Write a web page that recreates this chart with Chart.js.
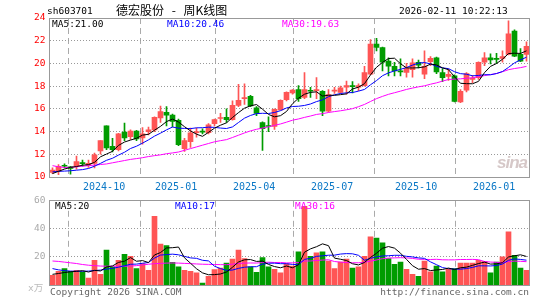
<!DOCTYPE html>
<html><head><meta charset="utf-8">
<script src="https://cdn.jsdelivr.net/npm/chart.js@4.4.1/dist/chart.umd.min.js"></script>
<style>
body{margin:0;width:545px;height:300px;background:#fff;position:relative;overflow:hidden;font-family:"DejaVu Sans Mono",monospace;}
canvas{position:absolute;left:0}
.t{position:absolute;font-size:9.5px;line-height:12px;white-space:pre;font-family:"DejaVu Sans Mono","Noto Sans CJK SC",monospace;}
</style></head><body>
<canvas id="main" width="545" height="198" style="top:0"></canvas>
<canvas id="vol" width="545" height="110" style="top:190px"></canvas>
<div class="t" style="left:47px;top:5px;color:#000">sh603701</div>
<div class="t" style="left:116px;top:3px;font-family:'Noto Sans CJK SC';font-size:12px;line-height:14px;color:#000;word-spacing:5px">德宏股份 - 周K线图</div>
<div class="t" style="left:399px;top:5px;color:#000">2026-02-11 10:22:13</div>
<div class="t" style="left:52px;top:18px;color:#000">MA5:21.00</div>
<div class="t" style="left:167px;top:18px;color:#0000ff">MA10:20.46</div>
<div class="t" style="left:282px;top:18px;color:#ff00ff">MA30:19.63</div>
<div class="t" style="left:55px;top:200px;color:#000">MA5:20</div>
<div class="t" style="left:175px;top:200px;color:#0000ff">MA10:17</div>
<div class="t" style="left:295px;top:200px;color:#ff00ff">MA30:16</div>
<div class="t" style="left:28px;top:282px;color:#bbb">x万</div>
<div class="t" style="left:50px;top:286px;color:#666">Copyright 2026 SINA.COM</div>
<div class="t" style="right:16px;top:286px;color:#666">http://finance.sina.com.cn</div>
<div style="position:absolute;left:497px;top:153px;font:italic bold 17px 'Liberation Sans',sans-serif;color:#d6c8c8;letter-spacing:-1px">sina</div>
<script>
// ---- data (weekly, 80 weeks from 2024-08-05 to 2026-02-09) ----
const open = [10.4,10.5,11.0,10.9,10.9,11.22,11.0,11.2,12.3,14.5, 12.7,12.4,13.95,13.55,14.05,13.45,14.0,14.15,15.2,15.7, 15.45,15.0,12.5,13.1,13.9,14.0,13.9,14.7,15.15,15.25, 15.05,16.3,16.9,17.1,16.1,14.8,14.5,14.45,15.9,16.8, 17.4,17.7,17.0,17.6,17.6,17.55,15.8,17.55,17.45,17.9, 18.05,17.9,18.05,19.05,21.7,21.4,20.2,19.75,19.35,19.2, 19.45,20.1,19.05,20.15,20.5,19.2,18.85,18.9,16.6,17.65, 18.6,18.75,20.1,20.5,20.4,20.45,20.8,22.85,20.8,20.8];
const high = [10.8,11.1,11.15,10.95,11.85,11.5,11.5,12.1,13.2,14.5, 13.4,13.85,14.75,14.15,14.1,14.35,14.4,15.3,16.25,16.2, 15.55,15.1,13.4,14.3,14.3,14.25,14.7,15.1,15.6,16.0, 16.7,18.15,18.2,17.2,16.2,14.85,15.3,16.0,16.8,17.5, 17.7,18.05,19.2,17.9,18.75,17.6,17.7,17.9,18.0,18.45, 18.4,18.2,19.75,22.1,22.2,21.45,20.5,20.1,20.4,20.0, 20.4,20.3,21.1,20.6,20.55,19.55,19.5,19.0,17.7,19.2, 18.95,20.15,20.95,20.85,20.9,21.1,23.75,22.95,21.3,21.9];
const low = [10.3,10.2,10.8,10.25,10.7,10.95,10.85,10.8,12.0,12.4, 12.2,12.3,13.2,13.3,13.2,12.9,13.7,14.0,14.8,14.5, 14.4,12.75,12.25,12.6,13.5,13.8,13.8,14.5,14.8,14.8, 15.0,16.2,16.4,16.2,15.4,12.35,14.0,14.2,15.9,16.7, 17.3,16.65,16.9,17.0,16.9,15.4,15.7,17.35,17.35,17.3, 17.4,17.6,18.0,19.0,21.1,19.35,18.9,18.9,18.9,18.8, 18.8,19.6,18.65,19.8,19.1,18.4,18.5,16.6,16.55,17.5, 18.3,18.6,19.8,19.95,20.0,20.1,20.75,20.6,20.15,20.2];
const close = [10.6,10.95,10.95,10.75,11.35,11.18,11.2,11.95,13.2,12.55, 12.4,13.8,13.45,14.05,13.35,13.8,14.15,15.25,15.75,15.45, 14.9,12.85,13.2,13.9,14.0,13.95,14.6,15.05,15.2,15.05, 16.3,16.75,17.0,16.25,15.6,14.25,14.45,15.95,16.75,17.45, 17.65,16.9,17.7,17.55,17.7,15.8,17.25,17.65,17.85,18.05, 17.95,18.05,19.2,21.7,21.4,20.1,19.75,19.35,19.25,19.6, 20.05,19.85,19.75,20.45,19.25,18.75,19.05,16.65,17.55,19.1, 18.7,20.1,20.5,20.3,20.35,20.6,22.6,20.65,20.2,21.5];
const ma5 = [10.3,10.5,10.7,10.85,10.92,11.04,11.09,11.29,11.78,12.02, 12.26,12.78,13.08,13.25,13.41,13.69,13.76,14.12,14.46,14.88, 15.1,14.84,14.43,14.06,13.77,13.58,13.93,14.3,14.56,14.77, 15.24,15.67,16.06,16.27,16.38,15.97,15.51,15.3,15.4,15.77, 16.45,16.94,17.29,17.45,17.5,17.13,17.2,17.19,17.25,17.32, 17.75,17.91,18.22,18.99,19.66,20.09,20.43,20.46,19.97,19.61, 19.6,19.62,19.7,19.94,19.87,19.61,19.45,18.83,18.25,18.22, 18.21,18.42,19.19,19.74,19.99,20.37,20.87,20.9,20.88,21.11];
const ma10 = [10.45,10.5,10.52,10.55,10.6,10.65,10.75,10.95,11.2,11.47, 11.65,11.93,12.18,12.51,12.71,12.98,13.27,13.6,13.86,14.15, 14.4,14.3,14.28,14.26,14.33,14.34,14.39,14.37,14.31,14.27, 14.41,14.8,15.18,15.42,15.58,15.61,15.59,15.68,15.84,16.08, 16.21,16.23,16.3,16.43,16.64,16.79,17.07,17.24,17.35,17.41, 17.44,17.56,17.71,18.12,18.49,18.92,19.17,19.34,19.48,19.64, 19.85,20.03,20.08,19.96,19.74,19.61,19.54,19.27,19.1,19.05, 18.91,18.94,19.01,19.0,19.11,19.29,19.65,20.05,20.31,20.55];
const ma30 = [11.0,10.9,10.84,10.85,10.9,10.95,11.0,11.05,11.1,11.15, 11.25,11.35,11.45,11.55,11.62,11.7,11.8,11.88,11.95,12.05, 12.12,12.2,12.35,12.5,12.65,12.8,12.95,13.1,13.2,13.29, 13.48,13.68,13.88,14.06,14.2,14.31,14.42,14.55,14.67,14.83, 15.0,15.11,15.25,15.37,15.51,15.58,15.68,15.76,15.83,15.92, 16.02,16.19,16.39,16.65,16.9,17.1,17.28,17.42,17.56,17.71, 17.83,17.94,18.03,18.17,18.29,18.44,18.59,18.62,18.64,18.7, 18.73,18.84,18.93,19.02,19.11,19.27,19.45,19.55,19.63,19.74];
const volume = [6.9,9.8,11.7,9.8,10.5,9.3,5.0,17.6,7.6,24.8, 12.9,17.6,21.9,20.5,11.7,15.3,10.5,49,29.1,28.1, 16.2,12.9,10.5,9.8,8.6,1.4,6.2,11.0,12.1,15.7, 18.4,24.8,18.8,12.9,9.1,19.6,12.9,11.2,8.6,15.3, 13.4,23.6,56,20.5,22.9,23.6,17.1,11.7,16.4,18.4, 12.1,12.9,20.5,34.3,33.4,30,18.8,14.8,16.4,11.2, 7.6,6.2,17.1,9.3,13.4,9.3,11.2,11.7,15.7,15.7, 15.7,17.6,16.9,8.6,16.4,20,37.9,21.2,12.1,10.5];
const vma5 = [7.6,8.2,8.9,9.4,9.74,10.22,9.26,10.44,10.0,12.86, 13.58,16.1,16.96,19.54,16.92,17.4,15.98,21.4,23.12,26.4, 26.58,27.06,19.36,15.5,11.6,8.64,7.3,7.4,7.86,9.28, 12.68,16.4,17.96,18.12,16.8,17.04,14.66,13.14,12.28,13.52, 12.28,14.42,23.38,25.76,27.28,29.32,28.02,19.16,18.34,17.44, 15.14,14.3,16.06,19.64,22.64,26.22,27.4,26.26,22.68,18.24, 13.76,11.24,11.7,10.28,10.72,11.06,12.06,10.98,12.26,12.72, 14.0,15.28,16.32,14.9,15.04,15.9,19.96,20.82,21.52,20.34];
const vma10 = [11.7,10.8,10.2,9.9,9.8,9.8,9.9,10.3,10.6,11.3, 11.9,12.68,13.7,14.77,14.89,15.49,16.04,19.18,21.33,21.66, 21.99,21.52,20.38,19.31,19.0,17.61,17.18,13.38,11.68,10.44, 10.66,11.85,12.68,12.99,13.04,14.86,15.53,15.55,15.2,15.16, 14.66,14.54,18.26,19.02,20.4,20.8,21.22,21.27,22.05,22.36, 22.23,21.16,17.61,18.99,20.04,20.68,20.85,21.16,21.16,20.44, 19.99,19.32,18.98,16.48,14.48,12.41,11.65,11.34,11.27,11.72, 12.53,13.67,13.65,13.58,13.88,14.95,17.62,18.57,18.21,17.69];
const vma30 = [17.1,16.8,16.3,15.8,15.3,14.6,14.1,13.8,13.5,13.4, 13.4,13.4,13.4,13.5,13.8,14.3,14.8,15.2,15.4,15.6, 15.7,15.6,15.4,15.2,15.0,14.8,14.7,14.6,14.5,14.47, 14.85,15.35,15.59,15.69,15.64,15.99,16.25,16.04,16.07,15.75, 15.77,15.97,17.11,17.11,17.48,17.76,17.98,16.73,16.31,15.99, 15.85,15.85,16.18,17.0,17.83,18.78,19.2,19.33,19.47,19.32, 18.96,18.34,18.28,18.16,18.31,17.96,17.91,17.92,18.16,18.17, 18.25,18.05,16.75,16.35,16.13,16.01,16.71,17.02,16.88,16.62];
const monthLabels = ['2024-10','2025-01','2025-04','2025-07','2025-10','2026-01'];
const monthStart = [9,21,34,47,61,74];   // index of first week of each labelled month
const priceTicks = [10,12,14,16,18,20,22,24];
const volTicks = [20,40,60];

// ---- build ----
const N = close.length;
const idx = close.map((_, i) => i);
const UP = '#ff5555', DOWN = '#009c00';
const colors = idx.map(i => close[i] >= open[i] ? UP : DOWN);
const mono = {family: 'DejaVu Sans Mono', size: 9.5};

const frame = {
  id: 'frame',
  afterDraw(chart) {
    const {ctx, chartArea: a} = chart;
    const l = Math.floor(a.left) + 0.5, r = Math.floor(a.right) + 0.5;
    const t = Math.floor(a.top) + 0.5, b = Math.floor(a.bottom) + 0.5;
    ctx.save();
    ctx.strokeStyle = '#999';
    ctx.lineWidth = 1;
    ctx.strokeRect(l, t, r - l, b - t);
    ctx.restore();
  }
};

function xAxis(showLabels, h) {
  return {
    type: 'linear', bounds: 'data', offset: false, min: -0.5, max: N - 0.5,
    afterBuildTicks: s => { s.ticks = monthStart.map(m => ({value: m - 0.4})); },
    afterFit: s => { s.height = h; },
    grid: {color: '#aaa', lineWidth: 1, drawTicks: false},
    border: {display: false, dash: [6, 4]},
    ticks: {display: showLabels, autoSkip: false, maxRotation: 0, padding: 4,
      color: '#0b78c6', font: {family: 'DejaVu Sans Mono', size: 10},
      callback: (v, k) => monthLabels[k]}
  };
}
function yAxis(min, max, list, col, hideVals) {
  return {
    min: min, max: max,
    afterBuildTicks: s => { s.ticks = list.map(v => ({value: v})); },
    afterFit: s => { s.width = 49.5; },
    grid: {color: c => (c.tick && hideVals.includes(c.tick.value)) ? 'rgba(0,0,0,0)' : '#999', drawTicks: false},
    border: {display: false, dash: [1, 2]},
    ticks: {color: col, padding: 4, font: mono, callback: v => String(v)}
  };
}
function line(arr, col) {
  return {type: 'line', data: idx.map(i => ({x: i, y: arr[i]})), borderColor: col,
    borderWidth: 1, pointRadius: 0, fill: false, tension: 0};
}
const common = {responsive: false, animation: false, events: [], devicePixelRatio: 1,
  plugins: {legend: {display: false}, tooltip: {enabled: false}}};

new Chart(document.getElementById('main'), {
  type: 'bar',
  data: {datasets: [
    line(ma5, '#000000'), line(ma10, '#0000ff'), line(ma30, '#ff00ff'),
    {type: 'bar', data: idx.map(i => ({x: i, y: [open[i], close[i]]})), backgroundColor: colors,
      barThickness: 5, grouped: false, minBarLength: 1},
    {type: 'bar', data: idx.map(i => ({x: i, y: [low[i], high[i]]})), backgroundColor: colors,
      barThickness: 1, grouped: false}
  ]},
  options: Object.assign({}, common, {
    layout: {padding: {top: 18, right: 15.5, left: 0, bottom: 0}},
    scales: {x: xAxis(true, 21), y: yAxis(10, 24, priceTicks, '#ff0000', [10, 24])}
  }),
  plugins: [frame]
});

new Chart(document.getElementById('vol'), {
  type: 'bar',
  data: {datasets: [
    line(vma5, '#000000'), line(vma10, '#0000ff'), line(vma30, '#ff00ff'),
    {type: 'bar', data: idx.map(i => ({x: i, y: volume[i]})), backgroundColor: colors,
      barThickness: 5, grouped: false}
  ]},
  options: Object.assign({}, common, {
    layout: {padding: {top: 10.8, right: 15.5, left: 0, bottom: 0}},
    scales: {x: xAxis(false, 15), y: yAxis(0, 60, volTicks, '#aaa', [0, 60])}
  }),
  plugins: [frame]
});
</script>
</body></html>
